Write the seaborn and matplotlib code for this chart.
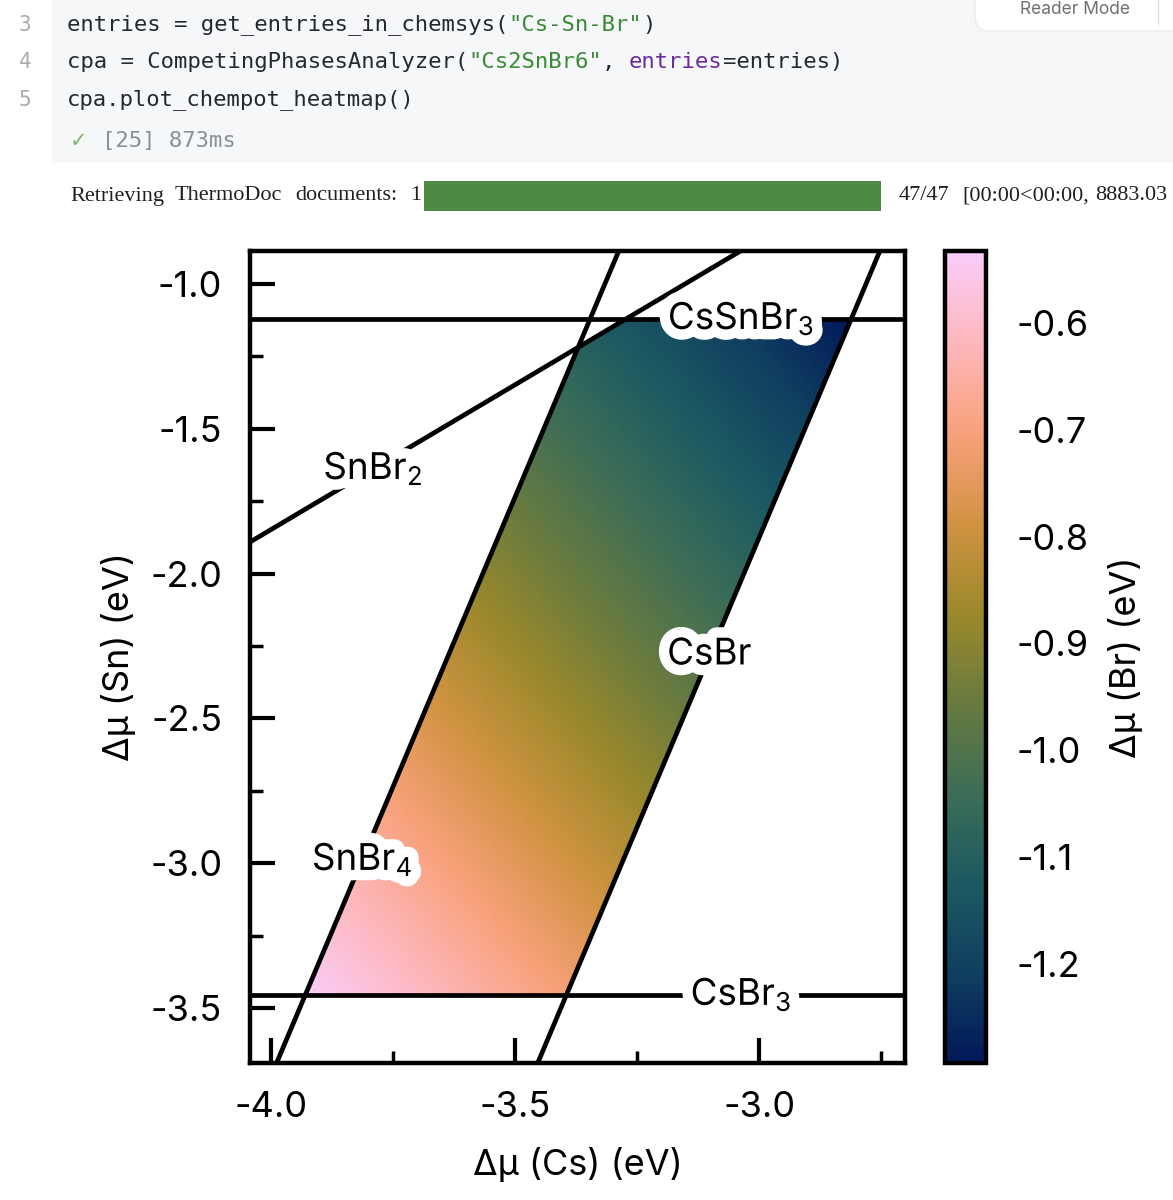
import numpy as np
import pandas as pd
import matplotlib
matplotlib.use("Agg")
import matplotlib.pyplot as plt
import matplotlib.patheffects as pe
from matplotlib.colors import LinearSegmentedColormap, Normalize
from matplotlib.cm import ScalarMappable
from matplotlib.patches import Rectangle, FancyBboxPatch
from matplotlib.ticker import AutoMinorLocator, FormatStrFormatter
import seaborn as sns

# ---- data (eV) ----
# corners of the stable region of Cs2SnBr6 and mu(Br) at each corner
region_cs = [-3.930, -3.395, -2.815, -3.273, -3.373]
region_sn = [-3.455, -3.455, -1.121, -1.121, -1.221]
region_br = [-0.5325, -0.7108, -1.2932, -1.1405, -1.0905]

# competing phase boundaries (two end points each, clipped by the axes)
phases = ["CsSnBr$_3$", "SnBr$_2$", "CsBr", "SnBr$_4$", "CsBr$_3$"]
line_cs_start = [-4.10, -4.10, -3.481, -4.016, -4.10]
line_cs_end = [-2.60, -2.90, -2.731, -3.266, -2.60]
line_sn_start = [-1.121, -1.948, -3.80, -3.80, -3.455]
line_sn_end = [-1.121, -0.748, -0.80, -0.80, -3.455]

# inline label positions
label_cs = [-3.037, -3.791, -3.102, -3.813, -3.037]
label_sn = [-1.121, -1.639, -2.281, -2.989, -3.455]

x_ticks = [-4.0, -3.5, -3.0]
y_ticks = [-1.0, -1.5, -2.0, -2.5, -3.0, -3.5]
cbar_ticks = [-0.6, -0.7, -0.8, -0.9, -1.0, -1.1, -1.2]

# batlow (Crameri) key colours
batlow = LinearSegmentedColormap.from_list("batlow", [
    "#011959", "#103F60", "#1C5A62", "#3C6D56", "#687B3E",
    "#9D892B", "#D29343", "#F8A17B", "#FDB7BC", "#FACCFA"])

sns.set_theme(style="ticks")
plt.rcParams['font.family'] = ['Inter', 'DejaVu Sans']
plt.rcParams['mathtext.fontset'] = 'custom'
plt.rcParams['mathtext.rm'] = 'Inter'
plt.rcParams['mathtext.it'] = 'Inter'
plt.rcParams['mathtext.bf'] = 'Inter'
plt.rcParams['axes.unicode_minus'] = False

W, H = 1173, 1200
fig = plt.figure(figsize=(W / 100, H / 100), dpi=100)
fig.patch.set_facecolor('white')


def fx(px):
    return px / W


def fy(py):
    return 1 - py / H


# ================= notebook cell above the plot =================
fig.patches.append(Rectangle((fx(52), fy(163)), 1 - fx(52), 163 / H,
                             transform=fig.transFigure, facecolor='#f6f7f9',
                             edgecolor='none', zorder=0))
fig.patches.append(FancyBboxPatch((fx(975), fy(31)), fx(260), 50 / H,
                                  boxstyle="round,pad=0,rounding_size=0.012",
                                  transform=fig.transFigure, facecolor='white',
                                  edgecolor='#ececec', lw=1, zorder=1))
fig.text(fx(1075), fy(10), "Reader Mode", fontsize=12.5, color='#707070',
         ha='center', va='center', zorder=2)
fig.add_artist(plt.Line2D([fx(1158), fx(1158)], [fy(0), fy(24)],
                          transform=fig.transFigure, color='#dcdcdc', lw=1))

CHAR = 13.38
DARK, GREEN, PURPLE, GRAY = '#24292f', '#3a8a35', '#6b2a9e', '#9aa0a6'
code_lines = [
    ("3", 25, [("entries = get_entries_in_chemsys(", DARK), ('"Cs-Sn-Br"', GREEN), (")", DARK)]),
    ("4", 62, [("cpa = CompetingPhasesAnalyzer(", DARK), ('"Cs2SnBr6"', GREEN), (", ", DARK),
               ("entries", PURPLE), ("=entries)", DARK)]),
    ("5", 100, [("cpa.plot_chempot_heatmap()", DARK)]),
]
for num, ypx, pieces in code_lines:
    fig.text(fx(25), fy(ypx), num, family='DejaVu Sans Mono', fontsize=15, color='#a8acb0',
             ha='center', va='center')
    n = 0
    for s, c in pieces:
        fig.text(fx(67 + n * CHAR), fy(ypx), s, family='DejaVu Sans Mono', fontsize=16,
                 color=c, ha='left', va='center')
        n += len(s)
fig.text(fx(70), fy(141), "\u2713", family='DejaVu Sans', fontsize=15, color='#7cb86a',
         ha='left', va='center')
fig.text(fx(102), fy(141), "[25] 873ms", family='DejaVu Sans Mono', fontsize=16,
         color='#8a9096', ha='left', va='center')

# progress bar line
serif = ['Liberation Serif', 'DejaVu Serif']
for s, xp in [("Retrieving", 70), ("ThermoDoc", 175), ("documents:", 295), ("1", 410),
              ("47/47", 899), ("[00:00<00:00,", 962), ("8883.03", 1095)]:
    fig.text(fx(xp), fy(196), s, family=serif, fontsize=16, color='#202020',
             ha='left', va='center')
fig.patches.append(Rectangle((fx(424), fy(211)), fx(881 - 424), 30 / H,
                             transform=fig.transFigure, facecolor='#4f8a45',
                             edgecolor='none'))

# ================= chemical potential heatmap =================
ax = fig.add_axes([fx(250), fy(1063), fx(905 - 250), (1063 - 251) / H])
cax = fig.add_axes([fx(945), fy(1063), fx(41), (1063 - 251) / H])

norm = Normalize(vmin=min(region_br), vmax=max(region_br))
ax.tricontourf(region_cs, region_sn, region_br, levels=np.linspace(norm.vmin, norm.vmax, 257),
               cmap=batlow, norm=norm, antialiased=False, zorder=1)

lines = pd.DataFrame({
    'phase': phases * 2,
    'cs': line_cs_start + line_cs_end,
    'sn': line_sn_start + line_sn_end,
})
sns.lineplot(data=lines, x='cs', y='sn', units='phase', estimator=None, sort=False,
             color='black', lw=3.4, ax=ax, zorder=2, legend=False)

for s, xl, yl in zip(phases, label_cs, label_sn):
    ax.text(xl, yl, s, fontsize=26.5, ha='center', va='center', color='black', zorder=3,
            path_effects=[pe.withStroke(linewidth=15, foreground='white')])

ax.set_xlim(-4.043, -2.701)
ax.set_ylim(-3.69, -0.886)
ax.set_xticks(x_ticks)
ax.set_yticks(y_ticks)
ax.xaxis.set_minor_locator(AutoMinorLocator(2))
ax.yaxis.set_minor_locator(AutoMinorLocator(2))
ax.xaxis.set_major_formatter(FormatStrFormatter('%.1f'))
ax.yaxis.set_major_formatter(FormatStrFormatter('%.1f'))
ax.tick_params(which='major', direction='in', length=18, width=3, labelsize=26,
               pad=20, top=False, right=False, color='black', labelcolor='black')
ax.tick_params(which='minor', direction='in', length=9, width=2.5,
               top=False, right=False, color='black')
for sp in ax.spines.values():
    sp.set_linewidth(3.2)
    sp.set_color('black')
ax.set_xlabel('\u0394\u03bc (Cs) (eV)', fontsize=26, labelpad=17, color='black')
ax.set_ylabel('\u0394\u03bc (Sn) (eV)', fontsize=26, labelpad=10, color='black')
ax.grid(False)

cb = fig.colorbar(ScalarMappable(norm=norm, cmap=batlow), cax=cax)
cb.set_ticks(cbar_ticks)
cb.ax.yaxis.set_major_formatter(FormatStrFormatter('%.1f'))
cb.ax.minorticks_off()
cb.outline.set_linewidth(3.2)
cb.outline.set_edgecolor('black')
cax.tick_params(direction='in', length=16, width=2.5, labelsize=26, pad=22,
                color='black', labelcolor='black')
cb.set_label('\u0394\u03bc (Br) (eV)', fontsize=26, labelpad=14, color='black')

fig.savefig('out.png', dpi=100)
